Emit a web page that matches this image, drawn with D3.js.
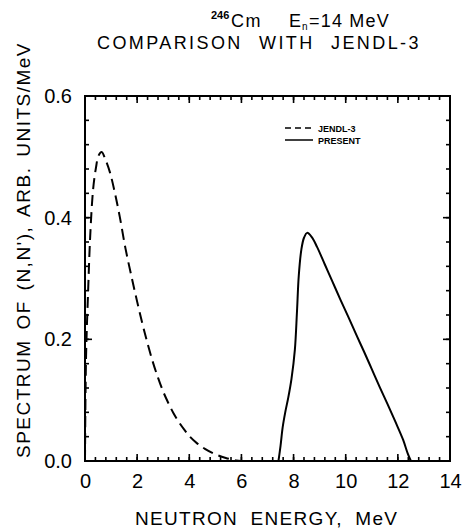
<!DOCTYPE html>
<html>
<head>
<meta charset="utf-8">
<script src="https://cdn.jsdelivr.net/npm/d3@7"></script>
<style>
  html, body { margin: 0; padding: 0; background: #fff; }
  svg { display: block; font-family: "Liberation Sans", Arial, sans-serif; }
</style>
</head>
<body>
<svg id="chart" width="466" height="532"></svg>
<script>
// Evaluated (n,n') spectrum, JENDL-3 (energy in MeV, arb. units/MeV)
const jendlE = [0, 0.04, 0.12, 0.2, 0.31, 0.42, 0.52, 0.64, 0.78, 0.96, 1.15, 1.34, 1.55, 1.8, 2.0, 2.2, 2.4, 2.6, 2.8, 3.0, 3.2, 3.4, 3.6, 3.8, 4.0, 4.3, 4.6, 5.0, 5.4, 5.8, 6.0];
const jendlY = [0, 0.17, 0.28, 0.37, 0.446, 0.482, 0.502, 0.508, 0.496, 0.474, 0.44, 0.40, 0.35, 0.30, 0.262, 0.226, 0.193, 0.163, 0.137, 0.114, 0.095, 0.078, 0.064, 0.052, 0.041, 0.029, 0.02, 0.011, 0.005, 0.001, 0];

// Present calculation
const presentE = [7.42, 7.5, 7.58, 7.68, 7.8, 7.92, 8.05, 8.13, 8.2, 8.3, 8.4, 8.52, 8.7, 8.9, 9.2, 9.5, 9.8, 10.1, 10.4, 10.7, 11.0, 11.3, 11.6, 11.9, 12.2, 12.38, 12.5];
const presentY = [0, 0.025, 0.055, 0.08, 0.105, 0.135, 0.183, 0.245, 0.305, 0.348, 0.367, 0.375, 0.368, 0.352, 0.323, 0.294, 0.265, 0.237, 0.208, 0.18, 0.151, 0.122, 0.094, 0.065, 0.035, 0.012, 0];

const xMajor = [0, 2, 4, 6, 8, 10, 12, 14];
const yMajor = [0.0, 0.2, 0.4, 0.6];
const xMinor = d3.range(0, 14.0001, 0.4);
const yMinor = d3.range(0, 0.6001, 0.04);

const svg = d3.select("#chart");
const plotL = 85, plotR = 450, plotT = 96, plotB = 461;

const x = d3.scaleLinear().domain([0, 14]).range([plotL, plotR]);
const y = d3.scaleLinear().domain([0, 0.6]).range([plotB, plotT]);

// Title, line 1: 246Cm   En=14 MeV
const title = svg.append("g").attr("fill", "#000");
title.append("text").attr("x", 211).attr("y", 19).attr("font-size", 11).attr("font-weight", "bold").text("246");
title.append("text").attr("x", 231).attr("y", 27).attr("font-size", 18).attr("letter-spacing", 1.5).text("Cm");
title.append("text").attr("x", 289).attr("y", 27).attr("font-size", 18).text("E");
title.append("text").attr("x", 302).attr("y", 30).attr("font-size", 10).text("n");
title.append("text").attr("x", 309).attr("y", 27).attr("font-size", 18).attr("letter-spacing", 1.2).text("=14 MeV");

// Title, line 2
title.append("text").attr("x", 97).attr("y", 48.5)
  .attr("font-size", 18).attr("letter-spacing", 2.4).attr("word-spacing", 9)
  .text("COMPARISON WITH JENDL-3");

// Frame
svg.append("rect").attr("x", plotL).attr("y", plotT)
  .attr("width", plotR - plotL).attr("height", plotB - plotT)
  .attr("fill", "none").attr("stroke", "#000").attr("stroke-width", 2);

// Inward-pointing ticks on all four sides
const tickColor = "#000";
function xTicks(vals, len, cls) {
  svg.selectAll("line.bx" + cls).data(vals).join("line").attr("class", "bx" + cls)
    .attr("x1", d => x(d)).attr("x2", d => x(d)).attr("y1", plotB).attr("y2", plotB - len)
    .attr("stroke", tickColor).attr("stroke-width", 1.6);
  svg.selectAll("line.tx" + cls).data(vals).join("line").attr("class", "tx" + cls)
    .attr("x1", d => x(d)).attr("x2", d => x(d)).attr("y1", plotT).attr("y2", plotT + len)
    .attr("stroke", tickColor).attr("stroke-width", 1.6);
}
function yTicks(vals, len, cls) {
  svg.selectAll("line.ly" + cls).data(vals).join("line").attr("class", "ly" + cls)
    .attr("y1", d => y(d)).attr("y2", d => y(d)).attr("x1", plotL).attr("x2", plotL + len)
    .attr("stroke", tickColor).attr("stroke-width", 1.6);
  svg.selectAll("line.ry" + cls).data(vals).join("line").attr("class", "ry" + cls)
    .attr("y1", d => y(d)).attr("y2", d => y(d)).attr("x1", plotR).attr("x2", plotR - len)
    .attr("stroke", tickColor).attr("stroke-width", 1.6);
}
xTicks(xMinor, 4, "min");
xTicks(xMajor, 7, "maj");
yTicks(yMinor, 4, "min");
yTicks(yMajor, 7, "maj");

// Tick labels through the axis generators
const gx = svg.append("g").attr("transform", `translate(0,${plotB})`)
  .call(d3.axisBottom(x).tickValues(xMajor).tickSize(0).tickPadding(13).tickFormat(d3.format("d")));
gx.select(".domain").remove();
gx.selectAll("text").attr("font-size", 20).attr("fill", "#000")
  .attr("font-family", "Liberation Sans, Arial, sans-serif");

const gy = svg.append("g").attr("transform", `translate(${plotL},0)`)
  .call(d3.axisLeft(y).tickValues(yMajor).tickSize(0).tickPadding(13).tickFormat(d3.format(".1f")));
gy.select(".domain").remove();
gy.selectAll("text").attr("font-size", 20).attr("fill", "#000")
  .attr("font-family", "Liberation Sans, Arial, sans-serif");

// Axis titles
svg.append("text").attr("x", 135).attr("y", 525)
  .attr("font-size", 19).attr("fill", "#000")
  .attr("letter-spacing", 1.3).attr("word-spacing", 6)
  .text("NEUTRON ENERGY, MeV");

svg.append("text").attr("transform", "translate(30,458) rotate(-90)")
  .attr("font-size", 19).attr("fill", "#000")
  .attr("letter-spacing", 1.5).attr("word-spacing", 3)
  .text("SPECTRUM OF  (N,N'), ARB. UNITS/MeV");

// Curves
const line = d3.line().x(d => x(d[0])).y(d => y(d[1])).curve(d3.curveCatmullRom.alpha(0.5));
const jendl = jendlE.map((e, i) => [e, jendlY[i]]);
const present = presentE.map((e, i) => [e, presentY[i]]);

svg.append("path").datum(jendl).attr("d", line)
  .attr("fill", "none").attr("stroke", "#000").attr("stroke-width", 2)
  .attr("stroke-dasharray", "11,6");

svg.append("path").datum(present).attr("d", line)
  .attr("fill", "none").attr("stroke", "#000").attr("stroke-width", 2);

// Legend
const lg = svg.append("g").attr("transform", "translate(285,128)");
lg.append("line").attr("x1", 0).attr("x2", 28).attr("y1", 0).attr("y2", 0)
  .attr("stroke", "#000").attr("stroke-width", 1.5).attr("stroke-dasharray", "6,4");
lg.append("text").attr("x", 33).attr("y", 3.5).attr("font-size", 9).attr("font-weight", "bold").text("JENDL-3");
lg.append("line").attr("x1", 0).attr("x2", 28).attr("y1", 12).attr("y2", 12)
  .attr("stroke", "#000").attr("stroke-width", 1.5);
lg.append("text").attr("x", 33).attr("y", 15.5).attr("font-size", 9).attr("font-weight", "bold").text("PRESENT");
</script>
</body>
</html>
